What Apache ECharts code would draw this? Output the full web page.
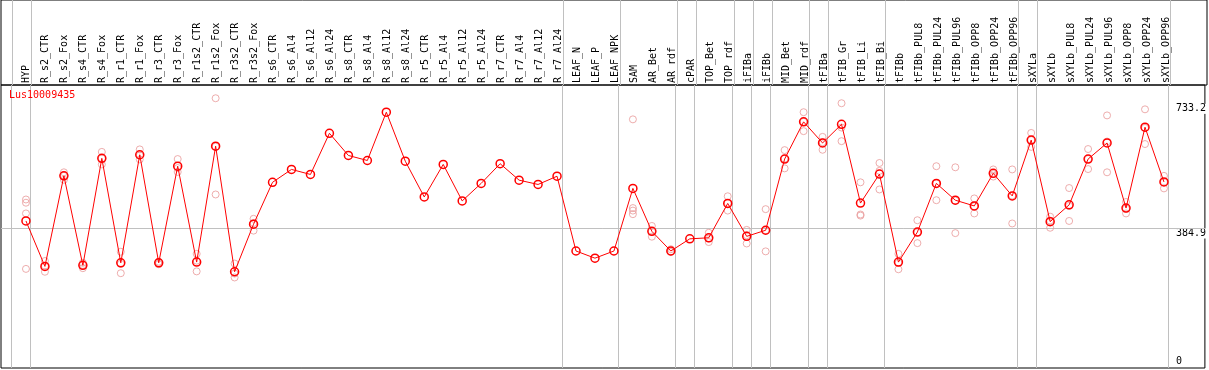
<!DOCTYPE html>
<html>
<head>
<meta charset="utf-8">
<script src="https://cdn.jsdelivr.net/npm/echarts@6/dist/echarts.min.js"></script>
<style>
  html, body { margin: 0; padding: 0; background: #fff; }
  #chart { width: 1209px; height: 370px; }
</style>
</head>
<body>
<div id="chart"></div>
<script>
const geneName = 'Lus10009435';

const samples = [
    'HYP',
    'R_s2_CTR', 'R_s2_Fox', 'R_s4_CTR', 'R_s4_Fox', 'R_r1_CTR', 'R_r1_Fox',
    'R_r3_CTR', 'R_r3_Fox', 'R_r1s2_CTR', 'R_r1s2_Fox', 'R_r3s2_CTR', 'R_r3s2_Fox',
    'R_s6_CTR', 'R_s6_Al4', 'R_s6_Al12', 'R_s6_Al24', 'R_s8_CTR', 'R_s8_Al4', 'R_s8_Al12', 'R_s8_Al24',
    'R_r5_CTR', 'R_r5_Al4', 'R_r5_Al12', 'R_r5_Al24', 'R_r7_CTR', 'R_r7_Al4', 'R_r7_Al12', 'R_r7_Al24',
    'LEAF_N', 'LEAF_P', 'LEAF_NPK',
    'SAM', 'AR_Bet', 'AR_rdf', 'cPAR', 'TOP_Bet', 'TOP_rdf', 'iFIBa', 'iFIBb',
    'MID_Bet', 'MID_rdf', 'tFIBa', 'tFIB_Gr', 'tFIB_Li', 'tFIB_Bi', 'tFIBb',
    'tFIBb_PUL8', 'tFIBb_PUL24', 'tFIBb_PUL96', 'tFIBb_OPP8', 'tFIBb_OPP24', 'tFIBb_OPP96',
    'sXYLa', 'sXYLb',
    'sXYLb_PUL8', 'sXYLb_PUL24', 'sXYLb_PUL96', 'sXYLb_OPP8', 'sXYLb_OPP24', 'sXYLb_OPP96'
];

// mean expression per sample
const means = [
    406, 279, 532, 282, 581, 289, 591, 289, 559, 291, 615, 264, 397,
    514, 550, 536, 651, 589, 575, 710, 573,
    473, 564, 462, 511, 566, 520, 508, 531,
    322, 302, 322,
    497, 377, 322, 356, 359, 455, 363, 380, 579, 683, 624, 676, 456, 537,
    291, 375, 511, 464, 448, 539, 476,
    632, 404, 451, 579, 624, 442, 668, 515
];

// single replicates per sample
const replicates = [
    [466, 457, 427, 272],
    [294, 280, 264], [542, 532, 521], [289, 283, 274], [599, 581, 564],
    [320, 286, 260], [606, 589, 578], [292, 288, 285], [579, 554, 543],
    [314, 295, 265], [749, 614, 480], [287, 259, 248], [412, 400, 379],
    [], [], [], [], [], [], [], [],
    [], [], [], [], [], [], [], [],
    [], [], [],
    [690, 442, 435, 425], [392, 377, 362], [327, 321, 319], [],
    [373, 357, 347], [475, 456, 435], [381, 366, 343], [439, 380, 321],
    [604, 580, 553], [710, 683, 657], [641, 626, 605], [735, 667, 629],
    [514, 424, 421], [568, 546, 494], [314, 289, 271],
    [408, 374, 344], [559, 511, 464], [556, 463, 372],
    [469, 447, 427], [550, 537, 530], [550, 477, 399],
    [652, 632, 613], [418, 407, 387],
    [498, 448, 406], [607, 579, 551], [701, 628, 542],
    [459, 440, 427], [718, 666, 621], [532, 515, 497]
];

// index of the last sample in each group (separator drawn right after it)
const groupEnds = [-1, 0, 28, 31, 34, 35, 37, 38, 39, 41, 42, 45, 52, 53, 60];

const upperTicks = [384.9, 733.2];
const lowerTicks = [0];
const midLine = 384.9;

const FONT = 'DejaVu Sans Mono';
const X_MIN = -1.316, X_MAX = 62.158;
const Y_MIN = -5, Y_MAX = 786;

let meanData = means.map((v, i) => [i, v]);
let repData = [];
replicates.forEach((list, i) => {
    list.forEach(v => repData.push([i, v]));
});

let sepLines = groupEnds.map(i => ({xAxis: i + 0.25}));

let chart = echarts.init(document.getElementById('chart'), null, {renderer: 'canvas'});

let sepMark = {
    silent: true,
    symbol: ['none', 'none'],
    label: {show: false},
    lineStyle: {color: '#c0c0c0', width: 1, type: 'solid'},
    emphasis: {disabled: true},
    animation: false,
    data: sepLines
};

chart.setOption({
    animation: false,
    title: {
        text: geneName,
        left: 9,
        top: 90,
        padding: 0,
        textStyle: {color: '#ff0000', fontSize: 10, fontWeight: 'normal', fontFamily: FONT}
    },
    grid: [
        {left: 1, right: 2, top: 0, height: 85, show: true, borderColor: '#000', borderWidth: 1},
        {left: 1, right: 2, top: 85, bottom: 2, show: true, borderColor: '#000', borderWidth: 1}
    ],
    xAxis: [
        {
            type: 'value', gridIndex: 0, min: X_MIN, max: X_MAX,
            axisLine: {show: false}, axisTick: {show: false}, splitLine: {show: false},
            axisLabel: {
                inside: true,
                rotate: 90,
                margin: 2,
                customValues: samples.map((s, i) => i),
                formatter: function (v) { return samples[Math.round(v)]; },
                color: '#000',
                fontSize: 10,
                fontFamily: FONT
            }
        },
        {
            type: 'value', gridIndex: 1, min: X_MIN, max: X_MAX, show: false,
            splitLine: {show: false}
        }
    ],
    yAxis: [
        {type: 'value', gridIndex: 0, min: 0, max: 1, show: false, splitLine: {show: false}},
        {
            type: 'value', gridIndex: 1, min: Y_MIN, max: Y_MAX, position: 'right',
            axisLine: {show: false}, axisTick: {show: false}, splitLine: {show: false},
            axisLabel: {
                inside: true, margin: 29, align: 'left', verticalAlign: 'top',
                customValues: upperTicks,
                formatter: function (v) { return String(v); },
                color: '#000', fontSize: 10, fontFamily: FONT,
                backgroundColor: '#fff'
            }
        },
        {
            type: 'value', gridIndex: 1, min: Y_MIN, max: Y_MAX, position: 'right',
            axisLine: {show: false}, axisTick: {show: false}, splitLine: {show: false},
            axisLabel: {
                inside: true, margin: 29, align: 'left', verticalAlign: 'bottom',
                customValues: lowerTicks,
                formatter: function (v) { return String(v); },
                color: '#000', fontSize: 10, fontFamily: FONT
            }
        }
    ],
    series: [
        {
            // separators in the label header
            type: 'line', xAxisIndex: 0, yAxisIndex: 0, data: [],
            markLine: sepMark
        },
        {
            name: 'replicates',
            type: 'scatter', xAxisIndex: 1, yAxisIndex: 1, z: 3,
            symbol: 'circle', symbolSize: 7,
            itemStyle: {color: 'rgba(0,0,0,0)', borderColor: '#e89898', borderWidth: 1},
            data: repData
        },
        {
            name: 'mean',
            type: 'line', xAxisIndex: 1, yAxisIndex: 1, z: 4,
            symbol: 'circle', symbolSize: 8,
            lineStyle: {color: '#ff0000', width: 1},
            itemStyle: {color: 'rgba(0,0,0,0)', borderColor: '#ff0000', borderWidth: 1.5},
            data: meanData,
            markLine: {
                silent: true,
                symbol: ['none', 'none'],
                label: {show: false},
                lineStyle: {color: '#c0c0c0', width: 1, type: 'solid'},
                emphasis: {disabled: true},
                z: 1,
                data: sepLines.concat([{yAxis: midLine}])
            }
        }
    ]
});
</script>
</body>
</html>
